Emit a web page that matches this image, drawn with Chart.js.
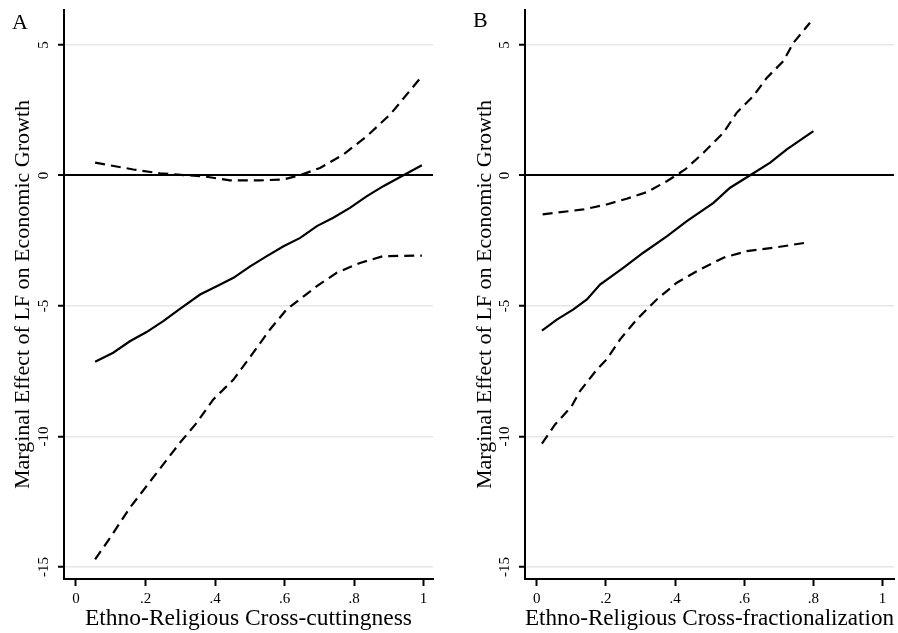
<!DOCTYPE html>
<html lang="en">
<head>
  <meta charset="UTF-8">
  <title>Marginal Effect of LF on Economic Growth</title>
  <script src="https://cdn.jsdelivr.net/npm/chart.js"></script>
  <style>
    body { margin: 0; background: #fff; }
    #wrap { position: relative; width: 898px; height: 633px; }
    .panel { position: absolute; top: 0; height: 633px; }
    #panel-a { left: 0; width: 450px; }
    #panel-b { left: 450px; width: 448px; }
  </style>
</head>
<body>
  <div id="wrap">
    <div class="panel" id="panel-a"><canvas id="chart-a"></canvas></div>
    <div class="panel" id="panel-b"><canvas id="chart-b"></canvas></div>
  </div>

  <script>
    // tick values shared by both panels
    const xTicks = [0, 0.2, 0.4, 0.6, 0.8, 1];
    const yTicks = [-15, -10, -5, 0, 5];

    // Panel A: cross-cuttingness
    const aMidX = [0.055, 0.107, 0.155, 0.203, 0.251, 0.299, 0.357, 0.405, 0.453, 0.501, 0.549, 0.597, 0.645, 0.693, 0.740, 0.788, 0.837, 0.884, 0.942, 0.995];
    const aMidY = [-7.14, -6.79, -6.35, -6.00, -5.58, -5.11, -4.56, -4.24, -3.92, -3.48, -3.09, -2.71, -2.39, -1.94, -1.62, -1.24, -0.79, -0.41, 0.01, 0.39];
    const aHiX = [0.055, 0.165, 0.242, 0.318, 0.376, 0.443, 0.529, 0.597, 0.645, 0.702, 0.769, 0.837, 0.904, 0.995];
    const aHiY = [0.49, 0.23, 0.08, 0.01, -0.05, -0.19, -0.19, -0.15, 0.01, 0.29, 0.80, 1.51, 2.34, 3.80];
    const aLoX = [0.055, 0.098, 0.155, 0.203, 0.251, 0.299, 0.347, 0.395, 0.453, 0.510, 0.558, 0.606, 0.693, 0.750, 0.817, 0.884, 0.995];
    const aLoY = [-14.71, -13.88, -12.73, -11.90, -11.07, -10.24, -9.48, -8.58, -7.82, -6.79, -5.90, -5.13, -4.24, -3.73, -3.35, -3.09, -3.07];

    // Panel B: cross-fractionalization
    const bMidX = [0.015, 0.058, 0.106, 0.145, 0.183, 0.250, 0.308, 0.376, 0.434, 0.511, 0.559, 0.617, 0.675, 0.723, 0.800];
    const bMidY = [-5.94, -5.52, -5.13, -4.75, -4.18, -3.54, -2.96, -2.33, -1.75, -1.05, -0.47, 0.01, 0.49, 1.00, 1.70];
    const bHiX = [0.017, 0.135, 0.202, 0.260, 0.318, 0.376, 0.429, 0.482, 0.540, 0.578, 0.626, 0.665, 0.713, 0.742, 0.790];
    const bHiY = [-1.49, -1.30, -1.11, -0.89, -0.64, -0.22, 0.23, 0.87, 1.64, 2.40, 3.04, 3.74, 4.38, 5.08, 5.85];
    const bLoX = [0.015, 0.053, 0.101, 0.125, 0.174, 0.202, 0.241, 0.289, 0.347, 0.405, 0.472, 0.540, 0.607, 0.684, 0.776];
    const bLoY = [-10.27, -9.54, -8.84, -8.26, -7.43, -7.05, -6.28, -5.52, -4.75, -4.11, -3.60, -3.15, -2.90, -2.77, -2.58];

    const FONT = '"Liberation Serif", "Times New Roman", serif';

    // y tick labels are rotated in the original, chart.js can't do that on a vertical axis
    const sideLabels = {
      id: 'sideLabels',
      afterDraw(chart, args, opts) {
        const ctx = chart.ctx;
        const ys = chart.scales.y;
        ctx.save();
        ctx.fillStyle = '#000';
        ctx.font = '15px ' + FONT;
        ctx.textAlign = 'center';
        ctx.textBaseline = 'middle';
        ys.ticks.forEach(t => {
          ctx.save();
          ctx.translate(opts.labelX, ys.getPixelForValue(t.value));
          ctx.rotate(-Math.PI / 2);
          ctx.fillText(String(t.value), 0, 0);
          ctx.restore();
        });
        ctx.font = '22px ' + FONT;
        ctx.textAlign = 'left';
        ctx.textBaseline = 'alphabetic';
        ctx.fillText(opts.letter, opts.letterX, opts.letterY);
        ctx.restore();
      }
    };

    function pts(xs, ys) {
      return xs.map((x, i) => ({ x: x, y: ys[i] }));
    }

    function lineSet(xs, ys, dashed) {
      return {
        data: pts(xs, ys),
        borderColor: '#000',
        borderWidth: 2.2,
        borderDash: dashed ? [10, 6] : [],
        pointRadius: 0,
        fill: false,
        tension: 0
      };
    }

    function xLabel(v) {
      if (v === 0) return '0';
      if (v === 1) return '1';
      return String(+v.toFixed(1)).replace(/^0/, '');
    }

    function makePanel(id, cfg) {
      new Chart(document.getElementById(id), {
        type: 'line',
        data: {
          datasets: [
            lineSet(cfg.hiX, cfg.hiY, true),
            lineSet(cfg.midX, cfg.midY, false),
            lineSet(cfg.loX, cfg.loY, true)
          ]
        },
        options: {
          responsive: true,
          maintainAspectRatio: false,
          animation: false,
          layout: { padding: { top: 10, right: cfg.padRight, left: 0, bottom: 0 } },
          plugins: {
            legend: { display: false },
            tooltip: { enabled: false },
            sideLabels: { labelX: cfg.labelX, letter: cfg.letter, letterX: cfg.letterX, letterY: cfg.letterY }
          },
          scales: {
            x: {
              type: 'linear',
              min: cfg.xMin,
              max: cfg.xMax,
              afterBuildTicks: s => { s.ticks = xTicks.map(v => ({ value: v })); },
              ticks: { color: '#000', font: { family: FONT, size: 15 }, padding: 4, maxRotation: 0, autoSkip: false, callback: xLabel },
              grid: { drawOnChartArea: false, tickColor: '#000', tickLength: 7, tickWidth: 2 },
              border: { color: '#000', width: 2 },
              title: { display: true, text: cfg.xTitle, color: '#000', font: { family: FONT, size: 23.5 }, padding: 0 },
              afterFit: s => { s.height = 54; }
            },
            y: {
              type: 'linear',
              min: -15.46,
              max: 6.34,
              afterBuildTicks: s => { s.ticks = yTicks.map(v => ({ value: v })); },
              ticks: { display: false },
              grid: {
                color: c => (c.tick && c.tick.value === 0) ? '#000' : '#e6e6e6',
                lineWidth: c => (c.tick && c.tick.value === 0) ? 2 : 1.5,
                tickColor: '#000',
                tickLength: 6,
                tickWidth: 2
              },
              border: { color: '#000', width: 2 },
              title: { display: true, text: 'Marginal Effect of LF on Economic Growth', color: '#000', font: { family: FONT, size: 22 }, padding: { top: cfg.titlePad, bottom: 0 } },
              afterFit: s => { s.width = cfg.axisW; }
            }
          }
        },
        plugins: [sideLabels]
      });
    }

    makePanel('chart-a', {
      midX: aMidX, midY: aMidY, hiX: aHiX, hiY: aHiY, loX: aLoX, loY: aLoY,
      xMin: -0.0345, xMax: 1.027, xTitle: 'Ethno-Religious Cross-cuttingness',
      axisW: 64, padRight: 17, titlePad: 10, labelX: 44,
      letter: 'A', letterX: 12, letterY: 29
    });

    makePanel('chart-b', {
      midX: bMidX, midY: bMidY, hiX: bHiX, hiY: bHiY, loX: bLoX, loY: bLoY,
      xMin: -0.034, xMax: 1.033, xTitle: 'Ethno-Religious Cross-fractionalization',
      axisW: 75, padRight: 4, titlePad: 22, labelX: 55,
      letter: 'B', letterX: 23, letterY: 27
    });
  </script>
</body>
</html>
